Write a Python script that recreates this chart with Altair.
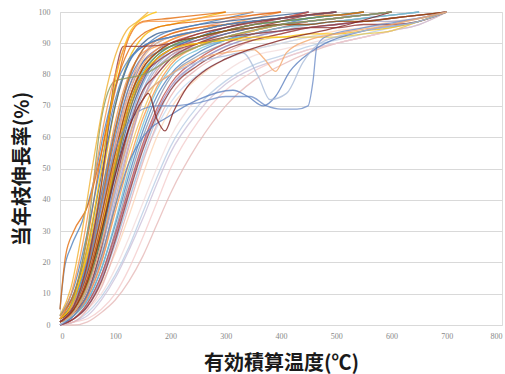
import altair as alt
import pandas as pd

# shared x grid (effective accumulated temperature, degC)
X_GRID = [0, 25, 50, 75, 100, 125, 150, 175, 200, 250, 300, 350, 400, 450, 500, 550, 600, 650, 700]

# series on the shared grid: (name, colour, y values)
grid_series = [
    ("L1", "#E6B9B8", [0, 0, 1, 4, 8, 14, 22, 32, 42, 58, 70, 78, 83, 87, 90, 92, 94, 96, 100]),
    ("L2", "#B9CDE5", [0, 1, 4, 9, 16, 25, 36, 47, 57, 70, 78, 83, 86, 89, 91, 93, 95, 97, 100]),
    ("L3", "#F2DCDB", [0, 2, 5, 10, 18, 28, 39, 50, 60, 73, 81, 86, 88, 90, 92, 94, 96, 98, 100]),
    ("L4", "#CCC1DA", [0, 1, 3, 8, 15, 24, 34, 45, 55, 68, 77, 82, 85, 88, 90, 92, 94, 96, 100]),
    ("L5", "#FCD5B5", [1, 2, 6, 13, 23, 35, 48, 60, 69, 79, 85, 88, 90, 92, 94, 95, 97, 98, 100]),
    ("L6", "#C6D9F1", [0, 2, 6, 14, 26, 40, 53, 63, 71, 80, 85, 88, 90, 92, 93, 95, 96, 98, 100]),
    ("L7", "#F4CCCC", [0, 1, 2, 5, 10, 18, 28, 39, 50, 65, 75, 81, 85, 88, 90, 92, 94, 97, 100]),
    ("M34", "#E6B0B0", [0, 1, 5, 12, 24, 38, 52, 64, 73, 82, 87, 91, 93, 95, 96, 97, 98, 99, 100]),
    ("M29", "#A7C0DE", [0, 2, 6, 14, 26, 40, 54, 66, 75, 84, 89, 92, 94, 96, 97, 98, 99, 100]),
    ("M6", "#95B3D7", [0, 3, 10, 24, 43, 62, 75, 83, 87, 91, 94, 96, 98, 99, 100]),
    ("M14", "#DA9694", [1, 3, 9, 20, 38, 57, 72, 81, 86, 90, 93, 95, 96, 97, 98, 99, 100]),
    ("M18", "#B3A2C7", [0, 3, 9, 21, 40, 58, 72, 80, 85, 89, 92, 94, 96, 97, 98, 99, 100]),
    ("M13", "#8EA9DB", [1, 4, 12, 27, 46, 64, 77, 84, 88, 92, 94, 96, 97, 98, 99, 99, 100]),
    ("M23", "#A6A6C8", [1, 4, 11, 24, 42, 60, 74, 82, 86, 89, 91, 93, 94, 95, 96, 97, 97, 98, 100]),
    ("M31", "#9F8BBF", [0, 2, 6, 15, 28, 43, 57, 68, 76, 84, 89, 92, 94, 95, 96, 97, 98, 99, 100]),
    ("M35", "#8497B0", [0, 2, 7, 16, 30, 46, 60, 71, 79, 86, 90, 93, 95, 96, 97, 98, 99, 100]),
    ("Y1", "#E6C84A", [1, 4, 12, 28, 50, 70, 82, 87, 89, 90, 91, 91, 92, 92, 92, 93, 94, 97, 100]),
    ("M26", "#4F81BD", [0, 3, 8, 18, 32, 48, 62, 73, 80, 87, 91, 94, 96, 98, 99, 100]),
    ("M27", "#F79646", [1, 3, 9, 20, 36, 52, 66, 76, 83, 89, 92, 94, 96, 97, 98, 99, 100]),
    ("M28", "#C0504D", [0, 2, 7, 16, 29, 44, 58, 69, 77, 85, 90, 93, 95, 97, 98, 99, 100]),
    ("M30", "#F2C55C", [1, 4, 10, 22, 38, 55, 68, 78, 84, 89, 92, 94, 96, 97, 98, 99, 100]),
    ("M32", "#6FBFD3", [1, 3, 8, 18, 33, 50, 64, 75, 82, 88, 91, 93, 95, 96, 97, 98, 99, 100]),
    ("M33", "#953735", [0, 2, 6, 14, 27, 42, 56, 67, 75, 83, 88, 91, 93, 95, 96, 97, 98, 99, 100]),
    ("M1", "#4F81BD", [2, 7, 20, 40, 62, 78, 86, 90, 92, 94, 96, 97, 98, 99, 100]),
    ("M2", "#C0504D", [1, 5, 15, 32, 55, 72, 82, 87, 90, 93, 95, 97, 98, 100]),
    ("M3", "#F79646", [3, 9, 22, 42, 65, 80, 87, 89, 91, 94, 96, 98, 100]),
    ("M4", "#376092", [1, 4, 12, 28, 48, 66, 78, 85, 88, 92, 95, 97, 98, 99, 100]),
    ("M5", "#8064A2", [2, 6, 17, 35, 57, 74, 84, 88, 90, 92, 94, 96, 97, 98, 99, 100]),
    ("M7", "#F5B800", [2, 8, 23, 45, 70, 85, 92, 95, 96, 98, 100]),
    ("M8", "#4BACC6", [1, 5, 14, 30, 52, 70, 81, 86, 89, 92, 94, 96, 97, 98, 99, 100]),
    ("M9", "#953735", [1, 4, 10, 25, 45, 63, 75, 80, 85, 90, 93, 95, 97, 99, 100]),
    ("M10", "#E6937A", [2, 7, 18, 36, 58, 76, 86, 91, 93, 95, 97, 99, 100]),
    ("M11", "#4F81BD", [1, 6, 18, 38, 60, 76, 84, 87, 89, 91, 93, 95, 96, 97, 98, 99, 100]),
    ("M12", "#F79646", [2, 6, 16, 33, 54, 72, 83, 88, 91, 94, 96, 97, 98, 99, 100]),
    ("M15", "#376092", [3, 10, 25, 48, 70, 84, 90, 93, 94, 96, 97, 98, 99, 100]),
    ("M16", "#C0504D", [2, 5, 14, 30, 50, 68, 79, 85, 88, 91, 94, 96, 98, 100]),
    ("M17", "#FAC090", [1, 5, 15, 33, 56, 74, 85, 90, 92, 94, 96, 97, 98, 99, 100]),
    ("M19", "#4F81BD", [2, 8, 21, 42, 63, 79, 88, 92, 94, 96, 98, 100]),
    ("M20", "#77933C", [1, 4, 13, 29, 50, 68, 80, 86, 89, 92, 94, 96, 97, 98, 99, 100]),
    ("M21", "#E46C0A", [2, 6, 19, 39, 62, 79, 88, 91, 93, 95, 96, 97, 98, 99, 99, 100]),
    ("M22", "#953735", [1, 5, 15, 32, 52, 70, 80, 84, 87, 90, 92, 93, 94, 95, 95, 96, 96, 97, 100]),
    ("M24", "#FFC000", [1, 5, 14, 31, 52, 70, 80, 85, 88, 90, 91, 92, 92, 93, 93, 94, 95, 97, 100]),
    ("M25", "#984807", [2, 6, 17, 35, 55, 72, 82, 87, 90, 92, 94, 95, 96, 96, 97, 97, 98, 99, 100]),
    ("M36", "#E46C0A", [2, 10, 28, 55, 76, 88, 93, 95, 96, 97, 98, 99, 100]),
    ("M37", "#4F81BD", [3, 12, 30, 52, 72, 84, 89, 91, 92, 94, 96, 97, 98, 99, 100]),
]

# series with their own x points: (name, colour, x values, y values)
free_series = [
    ("B1", "#6F8FC8",
     [0, 25, 50, 75, 100, 125, 150, 175, 200, 250, 300, 344, 374, 400, 429, 449, 458, 465, 480, 550, 650, 700],
     [1, 6, 18, 38, 56, 65, 69, 70, 70, 71, 73, 73, 70, 69, 69, 70, 78, 89, 92, 95, 98, 100]),
    ("B2", "#5B7FBF",
     [0, 25, 50, 75, 100, 125, 150, 200, 250, 313, 340, 368, 390, 416, 452, 480, 550, 650, 700],
     [0, 3, 10, 22, 38, 52, 60, 67, 72, 75, 73, 70, 73, 81, 87, 90, 94, 97, 100]),
    ("B3", "#A9BCD9",
     [0, 25, 50, 75, 100, 125, 150, 200, 250, 300, 330, 360, 380, 410, 440, 470, 550, 650, 700],
     [0, 4, 12, 26, 44, 60, 72, 80, 84, 86, 87, 79, 72, 74, 84, 90, 94, 97, 100]),
    ("O1", "#F5A86A",
     [0, 25, 50, 75, 100, 125, 150, 200, 250, 300, 350, 370, 390, 410, 450, 500, 600, 700],
     [1, 4, 12, 26, 44, 60, 72, 80, 85, 87, 88, 85, 81, 87, 91, 93, 96, 100]),
    ("D1", "#7F1F1F",
     [0, 25, 50, 75, 100, 125, 150, 160, 175, 190, 205, 230, 260, 300, 400, 500, 600],
     [1, 5, 14, 30, 48, 63, 72, 74, 66, 62, 68, 76, 81, 85, 91, 95, 100]),
    ("G1", "#8A9A5B",
     [0, 25, 50, 75, 100, 125, 150, 200, 250, 300, 400, 500, 600],
     [2, 9, 30, 66, 78, 79, 80, 85, 89, 92, 96, 98, 100]),
    ("S4", "#4F81BD",
     [0, 8, 20, 40, 60, 80, 100, 125, 150, 200, 250, 300, 400, 500],
     [5, 18, 25, 33, 45, 62, 76, 85, 89, 92, 94, 96, 98, 100]),
    ("S3", "#E46C0A",
     [0, 10, 25, 50, 75, 100, 125, 150, 200, 250, 300],
     [5, 22, 30, 38, 55, 75, 92, 97, 98, 99, 100]),
    ("S6", "#953735",
     [0, 25, 50, 75, 100, 115, 150, 200, 250, 300, 400, 500],
     [1, 6, 20, 45, 80, 89, 89, 90, 93, 95, 98, 100]),
    ("S5", "#FFC000",
     [0, 25, 50, 75, 100, 125, 150, 175],
     [2, 8, 25, 50, 78, 93, 98, 100]),
    ("S2", "#F79646",
     [0, 20, 40, 60, 80, 100, 120, 140, 160, 200, 250, 300, 350],
     [2, 10, 25, 45, 65, 80, 90, 96, 97, 97, 98, 99, 100]),
    ("S1", "#F0B030",
     [0, 20, 40, 60, 80, 100, 120, 140, 160],
     [3, 12, 30, 52, 72, 86, 94, 97, 100]),
]

Y_TICKS = [0, 10, 20, 30, 40, 50, 60, 70, 80, 90, 100]
X_TICKS = [0, 100, 200, 300, 400, 500, 600, 700, 800]

rows = []
names, colors = [], []
for name, col, ys in grid_series:
    names.append(name)
    colors.append(col)
    for x, y in zip(X_GRID, ys):
        rows.append({"s": name, "x": x, "y": y})
for name, col, xs, ys in free_series:
    names.append(name)
    colors.append(col)
    for x, y in zip(xs, ys):
        rows.append({"s": name, "x": x, "y": y})
df = pd.DataFrame(rows)

chart = alt.Chart(df).mark_line(
    interpolate="monotone", strokeWidth=1.3, opacity=0.8
).encode(
    x=alt.X("x:Q", scale=alt.Scale(domain=[0, 800], nice=False),
            axis=alt.Axis(values=X_TICKS, title="有効積算温度(℃)", grid=False,
                          ticks=False, domain=False, labelPadding=7,
                          labelFont="Liberation Serif", labelFontSize=8,
                          labelColor="#888888", titleFont="Noto Sans CJK JP",
                          titleFontSize=20, titleFontWeight="bold",
                          titleColor="#1a1a1a", titlePadding=13)),
    y=alt.Y("y:Q", scale=alt.Scale(domain=[0, 100], nice=False),
            axis=alt.Axis(values=Y_TICKS, title="当年枝伸長率(%)", grid=True,
                          gridColor="#D9D9D9", gridWidth=1.2,
                          ticks=False, domain=True, domainColor="#D9D9D9",
                          labelPadding=10, labelFont="Liberation Serif",
                          labelFontSize=8, labelColor="#888888",
                          titleFont="Noto Sans CJK JP", titleFontSize=20,
                          titleFontWeight="bold", titleColor="#1a1a1a",
                          titlePadding=6)),
    color=alt.Color("s:N", scale=alt.Scale(domain=names, range=colors), legend=None),
).properties(
    width=442, height=313,
    autosize=alt.AutoSizeParams(type="none"),
    padding={"left": 60, "top": 12, "right": 3, "bottom": 49},
).configure_view(stroke=None).configure(background="white")

chart.save("out.html", embed_options={"renderer": "svg", "actions": False})
